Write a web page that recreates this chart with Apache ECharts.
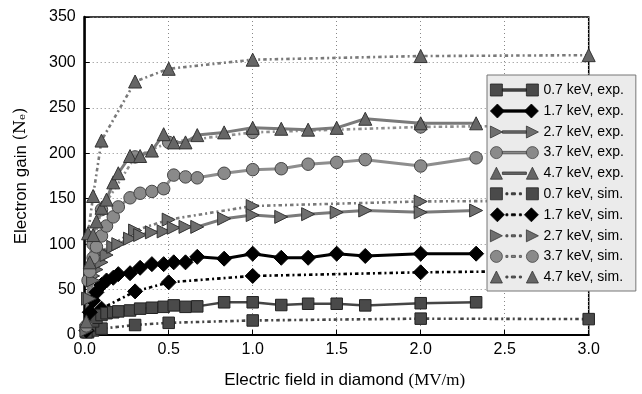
<!DOCTYPE html>
<html><head><meta charset="utf-8">
<script src="https://cdn.jsdelivr.net/npm/echarts@6/dist/echarts.min.js"></script>
<style>html,body{margin:0;padding:0;background:#fff}#c{width:642px;height:394px}</style>
</head><body><div id="c"></div>
<script>
// ---- data ----
const expX = [0.01, 0.03, 0.05, 0.07, 0.1, 0.13, 0.17, 0.2, 0.27, 0.33, 0.4, 0.47, 0.53, 0.6, 0.67, 0.83, 1.0, 1.17, 1.33, 1.5, 1.67, 2.0, 2.33];
const exp07 = [3, 10, 15, 19, 22, 24, 25, 26, 27, 29, 30, 31, 32.6, 31, 31.5, 36, 36, 33, 34.4, 34.4, 32.6, 35, 36];
const exp17 = [5, 25, 38, 47, 55, 60, 63, 67, 68, 74, 78, 78, 80, 80, 86, 84, 89.5, 85, 85, 89.5, 87, 89.5, 89.5];
const exp27 = [5, 40, 60, 72, 80, 88, 97, 100, 106, 110, 113, 114, 118, 119, 119, 128, 132, 130, 133, 135, 137, 135, 137];
const exp37 = [10, 70, 85, 97, 109, 120, 130, 141, 151, 156, 158, 161, 176, 174, 173, 178, 182, 183, 188, 190, 193, 186, 195];
const exp47 = [15, 80, 110, 125, 140, 149, 168, 178, 197, 197, 203, 221, 212, 212, 220, 223, 228, 227, 226, 228, 238, 233, 233];

const simX = [0.02, 0.05, 0.1, 0.3, 0.5, 1.0, 2.0, 3.0];
const sim07 = [3, 5, 7, 11, 13.4, 16, 18, 17.5];
const sim17 = [10, 18, 29, 48, 58, 65, 69, 71];
const sim27 = [40, 65, 92, 115, 127, 142, 147, 148];
const sim37 = [60, 100, 138, 196, 212, 223, 229, 231];
const sim47 = [112, 153, 214, 279, 293, 303, 307, 308];

const names = ['0.7 keV, exp.', '1.7 keV, exp.', '2.7 keV, exp.', '3.7 keV, exp.', '4.7 keV, exp.',
               '0.7 keV, sim.', '1.7 keV, sim.', '2.7 keV, sim.', '3.7 keV, sim.', '4.7 keV, sim.'];
const xTicks = [0, 0.5, 1.0, 1.5, 2.0, 2.5, 3.0];
const yTicks = [0, 50, 100, 150, 200, 250, 300, 350];

// ---- styles ----
const sty = [
  {sym: 'rect', size: 11.5, rot: 0, fill: '#4a4a4a', border: '#222', line: '#454545', lw: 2.5},
  {sym: 'diamond', size: 15, rot: 0, fill: '#000', border: '#000', line: '#000', lw: 3},
  {sym: 'triangle', size: 13, rot: -90, fill: '#6e6e6e', border: '#333', line: '#7a7a7a', lw: 3},
  {sym: 'circle', size: 12.5, rot: 0, fill: '#8a8a8a', border: '#444', line: '#8e8e8e', lw: 3},
  {sym: 'triangle', size: 13, rot: 0, fill: '#666', border: '#333', line: '#7a7a7a', lw: 3}
];
const shapeL = [
  'M0,1 L12,1 L12,13 L0,13 Z', 'M0,7 L7,0 L14,7 L7,14 Z', 'M0,1 L12,7 L0,13 Z',
  'M0,7 A6,6 0 1 1 12,7 A6,6 0 1 1 0,7 Z', 'M0,13 L6,1 L12,13 Z'];
const shapeR = [
  'M36,1 L48,1 L48,13 L36,13 Z', 'M34,7 L41,0 L48,7 L41,14 Z', 'M36,1 L48,7 L36,13 Z',
  'M36,7 A6,6 0 1 1 48,7 A6,6 0 1 1 36,7 Z', 'M36,13 L42,1 L48,13 Z'];
const solidMid = 'M12,5.8 L36,5.8 L36,8.2 L12,8.2 Z';
const dashMid = 'M15.5,6 L17.5,6 L17.5,8 L15.5,8 Z M21,6 L25,6 L25,8 L21,8 Z M29,6 L31,6 L31,8 L29,8 Z';

const expData = [exp07, exp17, exp27, exp37, exp47];
const simData = [sim07, sim17, sim27, sim37, sim47];
const series = [];
const legendData = [];
function mk(i, xs, ys, sim) {
  const s = sty[i];
  series.push({
    name: names[i + (sim ? 5 : 0)], type: 'line',
    data: xs.map((x, k) => [x, ys[k]]),
    symbol: s.sym, symbolSize: s.size, symbolRotate: s.rot,
    itemStyle: {color: s.fill, borderColor: s.border, borderWidth: 1},
    lineStyle: {color: s.line, width: sim ? 2.6 : s.lw, type: sim ? [2, 3, 3.5, 3] : 'solid'},
    z: sim ? 2 : 3, animation: false
  });
  legendData.push({
    name: names[i + (sim ? 5 : 0)],
    icon: 'path://' + shapeL[i] + ' ' + (sim ? dashMid : solidMid) + ' ' + shapeR[i],
    itemStyle: {color: s.fill, borderColor: s.border, borderWidth: 0.8}
  });
}
for (let i = 0; i < 5; i++) mk(i, expX, expData[i], false);
for (let i = 0; i < 5; i++) mk(i, simX, simData[i], true);

const font = 'Liberation Sans';
const chart = echarts.init(document.getElementById('c'), null, {renderer: 'canvas'});
chart.setOption({
  animation: false,
  backgroundColor: '#fff',
  grid: {left: 84.7, right: 53.3, top: 17, bottom: 55.5, show: true, borderColor: '#000', borderWidth: 1.5, backgroundColor: 'transparent'},
  xAxis: {
    type: 'value', min: xTicks[0], max: xTicks[xTicks.length - 1], interval: 0.5,
    axisLine: {lineStyle: {color: '#000', width: 2}},
    axisTick: {inside: true, length: 5, lineStyle: {color: '#000'}},
    axisLabel: {color: '#000', fontFamily: font, fontSize: 16, margin: 7, formatter: v => v.toFixed(1)},
    splitLine: {show: true, lineStyle: {color: '#888', type: [1, 3], width: 1}},
    name: '{a|Electric field in diamond }{b|(MV/m)}', nameLocation: 'middle', nameGap: 37,
    nameTextStyle: {padding: [0, 0, 0, 16], rich: {a: {fontFamily: font, fontSize: 17, color: '#000'}, b: {fontFamily: 'Liberation Serif', fontSize: 17, color: '#000'}}}
  },
  yAxis: {
    type: 'value', min: yTicks[0], max: yTicks[yTicks.length - 1], interval: 50,
    axisLine: {show: true, lineStyle: {color: '#000', width: 2.5}},
    axisTick: {show: true, inside: true, length: 5, lineStyle: {color: '#000'}},
    axisLabel: {color: '#000', fontFamily: font, fontSize: 16, margin: 9},
    splitLine: {show: true, lineStyle: {color: '#888', type: [1, 3], width: 1}},
    name: '{a|Electron gain }{b|(Nₑ)}', nameLocation: 'middle', nameGap: 55,
    nameTextStyle: {rich: {a: {fontFamily: font, fontSize: 17, color: '#000'}, b: {fontFamily: 'DejaVu Serif', fontSize: 16, color: '#000'}}}
  },
  legend: {
    orient: 'vertical', left: 487, top: 75,
    itemWidth: 48, itemHeight: 14, itemGap: 6.6,
    padding: [8, 12, 7, 3],
    backgroundColor: '#ebebeb', borderColor: '#777', borderWidth: 1,
    textStyle: {fontFamily: font, fontSize: 14, lineHeight: 14, color: '#000'},
    data: legendData, selectedMode: false
  },
  series: series
});
</script></body></html>
